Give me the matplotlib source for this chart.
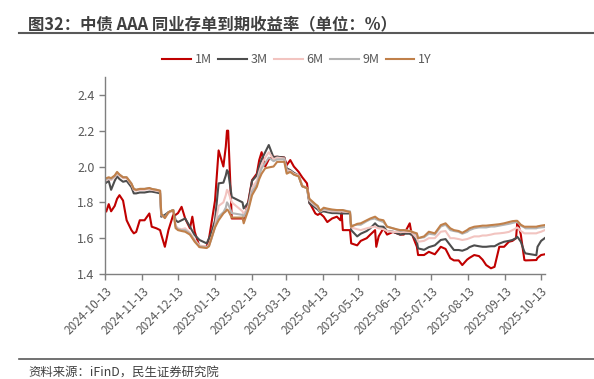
import pandas as pd
import matplotlib.pyplot as plt
import matplotlib.dates as mdates
from matplotlib.lines import Line2D

plt.rcParams["font.family"] = ["Noto Sans CJK SC", "DejaVu Sans"]

dates = [
    "2024-10-14", "2024-10-16", "2024-10-18", "2024-10-21", "2024-10-23", "2024-10-25",
    "2024-10-28", "2024-10-31", "2024-11-04", "2024-11-06", "2024-11-08", "2024-11-11",
    "2024-11-15", "2024-11-19", "2024-11-21", "2024-11-25", "2024-11-28", "2024-11-29",
    "2024-12-02", "2024-12-05", "2024-12-09", "2024-12-11", "2024-12-13", "2024-12-16",
    "2024-12-19", "2024-12-23", "2024-12-25", "2024-12-27", "2024-12-31", "2025-01-06",
    "2025-01-08", "2025-01-10", "2025-01-13", "2025-01-16", "2025-01-20", "2025-01-22",
    "2025-01-23", "2025-01-24", "2025-01-27", "2025-02-05", "2025-02-06", "2025-02-10",
    "2025-02-13", "2025-02-17", "2025-02-19", "2025-02-21", "2025-02-24", "2025-02-27",
    "2025-03-03", "2025-03-06", "2025-03-12", "2025-03-14", "2025-03-17", "2025-03-20",
    "2025-03-24", "2025-03-27", "2025-03-31", "2025-04-02", "2025-04-07", "2025-04-09",
    "2025-04-11", "2025-04-14", "2025-04-17", "2025-04-21", "2025-04-25", "2025-04-28",
    "2025-04-29", "2025-04-30", "2025-05-06", "2025-05-07", "2025-05-12", "2025-05-15",
    "2025-05-20", "2025-05-23", "2025-05-27", "2025-05-28", "2025-05-30", "2025-06-03",
    "2025-06-06", "2025-06-11", "2025-06-17", "2025-06-20", "2025-06-25", "2025-06-26",
    "2025-06-27", "2025-07-01", "2025-07-02", "2025-07-07", "2025-07-11", "2025-07-16",
    "2025-07-21", "2025-07-25", "2025-07-29", "2025-08-01", "2025-08-05", "2025-08-08",
    "2025-08-12", "2025-08-14", "2025-08-18", "2025-08-22", "2025-08-25", "2025-08-28",
    "2025-09-01", "2025-09-04", "2025-09-08", "2025-09-12", "2025-09-16", "2025-09-19",
    "2025-09-22", "2025-09-23", "2025-09-24", "2025-09-26", "2025-09-29", "2025-09-30",
    "2025-10-09", "2025-10-10", "2025-10-13", "2025-10-16",
]

m1 = [
    1.75, 1.79, 1.75, 1.78, 1.82, 1.84, 1.81, 1.70, 1.645, 1.627, 1.635, 1.70,
    1.70, 1.738, 1.664, 1.655, 1.645, 1.62, 1.552, 1.645, 1.73, 1.73, 1.74, 1.775,
    1.71, 1.655, 1.72, 1.636, 1.552, 1.552, 1.60, 1.683, 1.81, 2.09, 2.00, 2.11,
    2.20, 2.20, 1.71, 1.71, 1.70, 1.81, 1.924, 1.96, 2.036, 2.08, 2.00, 2.04,
    2.054, 2.054, 2.05, 2.008, 2.036, 2.00, 1.97, 1.94, 1.906, 1.80, 1.738, 1.73,
    1.738, 1.72, 1.69, 1.71, 1.72, 1.70, 1.74, 1.645, 1.645, 1.571, 1.56, 1.585,
    1.60, 1.62, 1.645, 1.552, 1.61, 1.655, 1.62, 1.635, 1.62, 1.62, 1.683, 1.645,
    1.62, 1.552, 1.506, 1.506, 1.524, 1.51, 1.552, 1.54, 1.488, 1.476, 1.476, 1.45,
    1.48, 1.49, 1.506, 1.50, 1.48, 1.45, 1.432, 1.44, 1.552, 1.552, 1.58, 1.585,
    1.60, 1.683, 1.675, 1.62, 1.478, 1.476, 1.478, 1.49, 1.506, 1.51,
]

m3 = [
    1.91, 1.92, 1.87, 1.92, 1.945, 1.93, 1.915, 1.92, 1.885, 1.85, 1.85, 1.855,
    1.855, 1.86, 1.86, 1.855, 1.85, 1.72, 1.73, 1.745, 1.757, 1.70, 1.69, 1.70,
    1.71, 1.664, 1.64, 1.617, 1.59, 1.571, 1.60, 1.63, 1.70, 1.906, 1.91, 1.95,
    1.98, 1.97, 1.83, 1.80, 1.766, 1.80, 1.92, 1.95, 2.00, 2.04, 2.08, 2.12,
    2.05, 2.055, 2.05, 1.99, 1.98, 1.965, 1.95, 1.89, 1.88, 1.795, 1.77, 1.76,
    1.745, 1.75, 1.745, 1.74, 1.74, 1.738, 1.738, 1.738, 1.738, 1.645, 1.61, 1.625,
    1.64, 1.655, 1.683, 1.675, 1.665, 1.664, 1.64, 1.636, 1.62, 1.625, 1.625, 1.62,
    1.62, 1.58, 1.543, 1.535, 1.55, 1.56, 1.59, 1.595, 1.56, 1.534, 1.534, 1.53,
    1.54, 1.55, 1.56, 1.555, 1.552, 1.552, 1.555, 1.555, 1.57, 1.58, 1.585, 1.59,
    1.60, 1.608, 1.60, 1.58, 1.524, 1.515, 1.505, 1.552, 1.585, 1.60,
]

m6 = [
    1.925, 1.93, 1.925, 1.94, 1.96, 1.95, 1.935, 1.935, 1.90, 1.87, 1.865, 1.87,
    1.87, 1.875, 1.87, 1.865, 1.86, 1.73, 1.715, 1.74, 1.755, 1.67, 1.655, 1.65,
    1.655, 1.63, 1.61, 1.59, 1.56, 1.55, 1.565, 1.60, 1.67, 1.78, 1.80, 1.84,
    1.87, 1.86, 1.80, 1.75, 1.73, 1.78, 1.88, 1.92, 1.97, 2.01, 2.05, 2.08,
    2.04, 2.05, 2.045, 1.98, 1.975, 1.96, 1.95, 1.895, 1.88, 1.81, 1.78, 1.77,
    1.75, 1.76, 1.755, 1.75, 1.75, 1.75, 1.75, 1.75, 1.745, 1.66, 1.65, 1.645,
    1.655, 1.66, 1.665, 1.66, 1.655, 1.65, 1.64, 1.635, 1.635, 1.635, 1.635, 1.635,
    1.63, 1.60, 1.58, 1.585, 1.60, 1.60, 1.636, 1.64, 1.60, 1.60, 1.595, 1.59,
    1.595, 1.60, 1.61, 1.61, 1.615, 1.615, 1.62, 1.625, 1.627, 1.63, 1.635, 1.645,
    1.655, 1.66, 1.655, 1.64, 1.627, 1.627, 1.627, 1.63, 1.636, 1.645,
]

m9 = [
    1.93, 1.935, 1.93, 1.945, 1.965, 1.955, 1.94, 1.94, 1.905, 1.875, 1.87, 1.875,
    1.875, 1.88, 1.875, 1.87, 1.865, 1.735, 1.715, 1.745, 1.757, 1.665, 1.65, 1.645,
    1.645, 1.625, 1.605, 1.585, 1.555, 1.548, 1.56, 1.595, 1.665, 1.72, 1.745, 1.77,
    1.80, 1.79, 1.74, 1.73, 1.72, 1.77, 1.86, 1.90, 1.95, 1.99, 2.02, 2.05,
    2.03, 2.04, 2.04, 1.97, 1.97, 1.955, 1.945, 1.89, 1.88, 1.815, 1.785, 1.775,
    1.75, 1.765, 1.76, 1.755, 1.755, 1.755, 1.755, 1.755, 1.75, 1.67, 1.675, 1.675,
    1.695, 1.705, 1.71, 1.705, 1.70, 1.69, 1.665, 1.655, 1.64, 1.645, 1.64, 1.64,
    1.635, 1.62, 1.60, 1.605, 1.625, 1.62, 1.665, 1.675, 1.645, 1.64, 1.635, 1.625,
    1.635, 1.645, 1.655, 1.66, 1.66, 1.66, 1.665, 1.665, 1.67, 1.675, 1.68, 1.685,
    1.69, 1.69, 1.685, 1.67, 1.66, 1.655, 1.655, 1.658, 1.66, 1.662,
]

y1 = [
    1.935, 1.94, 1.935, 1.95, 1.97, 1.955, 1.94, 1.94, 1.905, 1.875, 1.87, 1.875,
    1.875, 1.88, 1.875, 1.87, 1.865, 1.735, 1.712, 1.745, 1.757, 1.656, 1.645, 1.64,
    1.636, 1.62, 1.60, 1.58, 1.55, 1.545, 1.555, 1.60, 1.66, 1.70, 1.738, 1.75,
    1.76, 1.755, 1.715, 1.715, 1.683, 1.76, 1.84, 1.887, 1.93, 1.96, 1.99, 1.995,
    2.00, 2.026, 2.026, 1.96, 1.97, 1.955, 1.945, 1.89, 1.88, 1.82, 1.79, 1.78,
    1.753, 1.77, 1.765, 1.76, 1.757, 1.757, 1.757, 1.757, 1.745, 1.664, 1.68, 1.683,
    1.70, 1.71, 1.72, 1.715, 1.705, 1.70, 1.664, 1.655, 1.645, 1.645, 1.64, 1.64,
    1.635, 1.627, 1.60, 1.61, 1.636, 1.627, 1.673, 1.683, 1.655, 1.645, 1.64, 1.63,
    1.645, 1.655, 1.664, 1.667, 1.67, 1.67, 1.673, 1.675, 1.678, 1.683, 1.69, 1.695,
    1.697, 1.697, 1.69, 1.675, 1.664, 1.664, 1.664, 1.666, 1.670, 1.673,
]

labels = ["1M", "3M", "6M", "9M", "1Y"]
colors = ["#C00000", "#4D4D4D", "#F2C4C0", "#B3B3B3", "#C0804A"]

x = pd.to_datetime(dates)

fig = plt.figure(figsize=(5.94, 3.79), dpi=100)
ax = fig.add_axes([0.177, 0.277, 0.740, 0.520])

for vals, lab, col in zip([m1, m3, m6, m9, y1], labels, colors):
    ax.plot(x, vals, color=col, linewidth=1.5, label=lab)

ax.set_ylim(1.4, 2.5)
ax.set_yticks([1.4, 1.6, 1.8, 2.0, 2.2, 2.4])
ax.set_yticklabels(["1.4", "1.6", "1.8", "2.0", "2.2", "2.4"])
ax.set_xlim(pd.Timestamp("2024-10-13"), pd.Timestamp("2025-10-16"))
ax.xaxis.set_major_locator(mdates.MonthLocator(bymonthday=13))
ax.xaxis.set_major_formatter(mdates.DateFormatter("%Y-%m-%d"))

for s in ["top", "right"]:
    ax.spines[s].set_visible(False)
for s in ["left", "bottom"]:
    ax.spines[s].set_color("#7F7F7F")
    ax.spines[s].set_linewidth(1.0)

ax.tick_params(axis="both", colors="#7F7F7F", labelcolor="#595959", length=4, width=1.0)
ax.tick_params(axis="y", labelsize=9)
ax.tick_params(axis="x", labelsize=8.5)
plt.setp(ax.get_xticklabels(), rotation=45, ha="right", rotation_mode="anchor")

handles = [Line2D([], [], color=c, linewidth=1.5) for c in colors]
fig.legend(handles, labels, loc="center", bbox_to_anchor=(0.50, 0.842), ncol=5,
           frameon=False, fontsize=9, handlelength=2.3, handletextpad=0.3,
           columnspacing=0.5, labelcolor="#595959")

fig.text(0.047, 0.937, "图32：中债 AAA 同业存单到期收益率（单位：%）", fontsize=11.8,
         fontweight="bold", color="#404040", va="center", ha="left")
fig.add_artist(Line2D([0.032, 1.0], [0.914, 0.914], color="#595959", linewidth=1.5))
fig.add_artist(Line2D([0.032, 1.0], [0.053, 0.053], color="#595959", linewidth=1.2))
fig.text(0.047, 0.018, "资料来源：iFinD，民生证券研究院", fontsize=8.9,
         color="#404040", va="center", ha="left")

plt.savefig("out.png", dpi=100)
